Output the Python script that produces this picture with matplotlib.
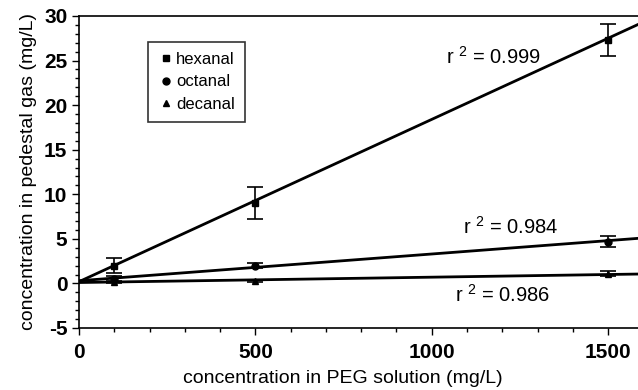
import matplotlib.pyplot as plt
import numpy as np
from matplotlib.ticker import MultipleLocator
from matplotlib.lines import Line2D

plt.rcParams['font.family'] = ['Liberation Sans', 'DejaVu Sans']
plt.rcParams['mathtext.default'] = 'regular'
plt.rcParams['axes.unicode_minus'] = False

# data
peg_conc = [100, 500, 1500]
hexanal = [2.0, 9.0, 27.3]
hexanal_err = [0.8, 1.8, 1.8]
octanal = [0.5, 2.0, 4.7]
octanal_err = [0.3, 0.3, 0.6]
decanal = [0.2, 0.3, 1.1]
decanal_err = [0.1, 0.1, 0.3]

# fitted lines (slope, intercept)
fit_x = [0, 1600]
hex_fit = (0.0182, 0.2)
oct_fit = (0.0030, 0.3)
dec_fit = (0.00060, 0.1)

r2_labels = ["0.999", "0.984", "0.986"]
r2_pos = [(1040, 24.6), (1088, 5.6), (1067, -2.1)]

fig = plt.figure(figsize=(6.38, 3.90), dpi=100)
ax = fig.add_axes([0.124, 0.159, 0.876, 0.800])

for slope, icpt in [hex_fit, oct_fit, dec_fit]:
    xs = np.array(fit_x)
    ax.plot(xs, slope * xs + icpt, color='black', lw=2, zorder=2)

ebkw = dict(color='black', ms=5, capsize=5.5, elinewidth=1.2, capthick=1.2, zorder=3)
ax.errorbar(peg_conc, hexanal, yerr=hexanal_err, fmt='s', **ebkw)
ax.errorbar(peg_conc, octanal, yerr=octanal_err, fmt='o', **ebkw)
ax.errorbar(peg_conc, decanal, yerr=decanal_err, fmt='^', **ebkw)

for lab, (tx, ty) in zip(r2_labels, r2_pos):
    ax.text(tx, ty, r'r $^{2}$ = ' + lab, fontsize=14.5)

ax.set_xlim(0, 1585)
ax.set_ylim(-5, 30)
ax.xaxis.set_major_locator(MultipleLocator(500))
ax.xaxis.set_minor_locator(MultipleLocator(100))
ax.yaxis.set_major_locator(MultipleLocator(5))
ax.yaxis.set_minor_locator(MultipleLocator(1))
ax.tick_params(which='major', length=5, width=1, labelsize=15)
ax.tick_params(which='minor', length=3, width=1)
ax.tick_params(axis='x', pad=6)
for lbl in ax.get_xticklabels() + ax.get_yticklabels():
    lbl.set_fontweight('bold')

for s in ['top', 'left', 'bottom']:
    ax.spines[s].set_linewidth(1.2)
ax.spines['right'].set_visible(False)

ax.set_xlabel('concentration in PEG solution (mg/L)', fontsize=14)
ax.xaxis.set_label_coords(0.472, -0.135)
ax.set_ylabel('concentration in pedestal gas (mg/L)', fontsize=14, labelpad=5)

handles = [Line2D([], [], ls='none', marker=m, color='black', ms=m_s)
           for m, m_s in [('s', 5), ('o', 5), ('^', 5)]]
leg = ax.legend(handles, ['hexanal', 'octanal', 'decanal'], loc='upper left',
                bbox_to_anchor=(0.123, 0.917), fontsize=12,
                frameon=True, fancybox=False, edgecolor='black', handletextpad=0.1,
                handlelength=1.0, borderpad=0.6, labelspacing=0.45, borderaxespad=0)
leg.get_frame().set_linewidth(1.2)

fig.savefig('out.png', dpi=100)
